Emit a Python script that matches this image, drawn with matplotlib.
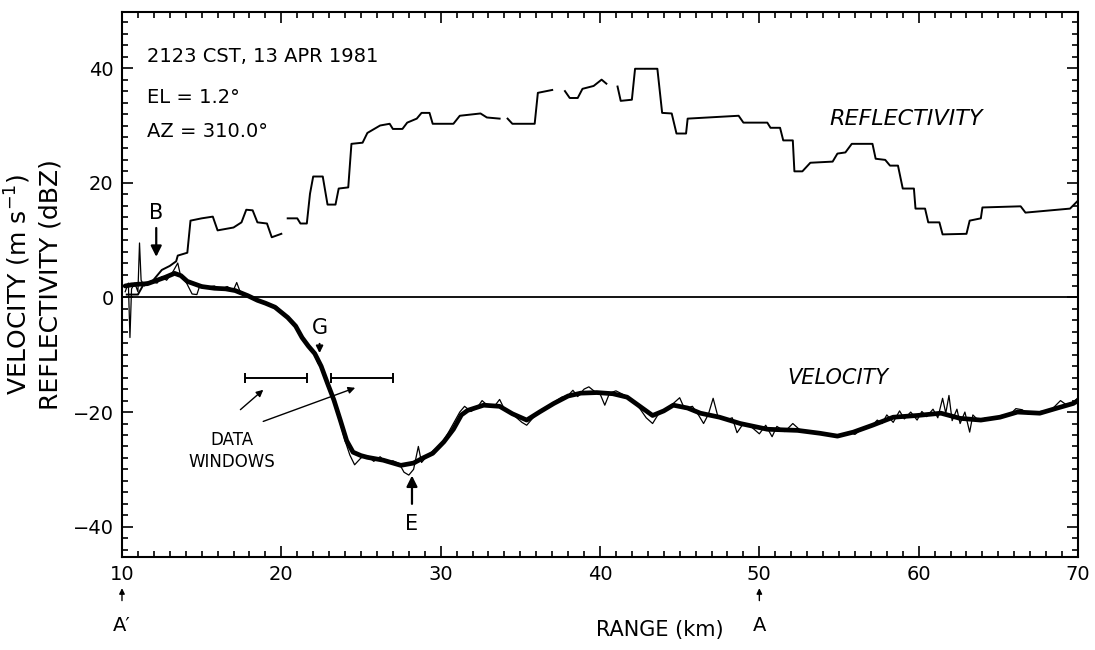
import matplotlib
matplotlib.use("Agg")
import matplotlib.pyplot as plt
import numpy as np
from matplotlib.ticker import MultipleLocator

# reflectivity trace (dBZ), NaN = gap in the trace
refl_x = [10.3, 11.0, 11.4, 11.9, 12.5, 13.0, 13.4, 13.5, 14.1, 14.3, 15.0, 15.7, 16.0, 17.0, 17.5,
          17.8, 18.2, 18.5, 19.1, 19.4, 20.0, 20.2, 20.4, 21.0, 21.2, 21.6, 21.8, 22.0, 22.6, 22.9,
          23.4, 23.6, 24.2, 24.4, 25.1, 25.4, 26.2, 26.8, 27.0, 27.6, 27.9, 28.5, 28.8, 29.3, 29.5,
          30.8, 31.2, 32.5, 32.9, 33.7, 33.9, 34.2, 34.5, 35.9, 36.1, 37.0, 37.4, 37.8, 38.1, 38.6,
          38.9, 39.6, 40.1, 40.4, 40.7, 41.1, 41.3, 42.0, 42.2, 43.6, 43.9, 44.5, 44.8, 45.4, 45.5,
          48.7, 49.0, 50.5, 50.7, 51.3, 51.5, 52.1, 52.2, 52.7, 53.2, 54.6, 54.9, 55.4, 55.8, 57.1,
          57.3, 57.9, 58.2, 58.7, 59.0, 59.7, 59.8, 60.4, 60.6, 61.3, 61.5, 63.0, 63.2, 63.9, 64.0,
          66.4, 66.7, 69.5, 70.0]
refl_y = [0.5, 0.5, 2.5, 2.8, 4.8, 5.5, 6.3, 7.3, 7.8, 13.4, 13.8, 14.1, 11.7, 12.2, 13.1,
          15.3, 15.2, 13.1, 12.9, 10.5, 11.1, np.nan, 13.8, 13.8, 12.9, 12.9, 18.1, 21.1, 21.1, 16.2,
          16.2, 19.0, 19.2, 26.8, 27.0, 28.7, 30.0, 30.3, 29.4, 29.4, 30.5, 31.2, 32.2, 32.2, 30.3,
          30.3, 31.7, 32.1, 31.4, 31.2, np.nan, 31.2, 30.3, 30.3, 35.7, 36.2, np.nan, 36.0, 34.8, 34.8,
          36.4, 36.9, 38.0, 37.3, np.nan, 36.8, 34.3, 34.5, 39.9, 39.9, 32.2, 32.1, 28.6, 28.6, 31.2,
          31.7, 30.5, 30.5, 29.6, 29.6, 27.4, 27.4, 22.0, 22.0, 23.5, 23.7, 25.1, 25.3, 26.8, 26.8,
          24.2, 24.0, 23.0, 23.0, 19.0, 19.0, 15.5, 15.5, 13.1, 13.1, 11.0, 11.1, 13.4, 13.8, 15.7,
          15.9, 14.8, 15.5, 16.9]

# smoothed velocity (m/s), thick curve
vel_x = [10.2, 10.6, 11.0, 11.6, 12.2, 12.7, 13.3, 13.7, 14.1, 15.0, 15.8, 16.5, 17.1, 17.9, 18.5,
         19.0, 19.6, 20.4, 20.9, 21.3, 21.7, 22.1, 22.5, 22.9, 23.3, 23.7, 24.1, 24.5, 25.0, 25.4,
         26.4, 27.5, 28.3, 28.9, 29.5, 30.2, 30.8, 31.3, 31.7, 32.7, 33.7, 34.5, 35.4, 36.2, 37.1,
         38.0, 38.8, 39.8, 40.8, 41.7, 42.5, 43.3, 44.0, 44.6, 45.5, 46.3, 47.5, 48.8, 50.5, 52.4,
         53.8, 54.9, 55.9, 57.1, 58.4, 59.9, 61.4, 62.6, 63.9, 65.1, 66.2, 67.6, 68.7, 69.7, 70.0]
vel_y = [2.0, 2.2, 2.3, 2.4, 3.0, 3.5, 4.2, 3.8, 2.8, 1.9, 1.6, 1.5, 1.2, 0.3, -0.5,
         -1.0, -1.7, -3.5, -5.0, -7.0, -8.5, -9.8, -12.0, -15.0, -17.9, -21.4, -25.0, -27.0, -27.6, -27.9,
         -28.4, -29.3, -28.9, -28.0, -27.2, -25.2, -23.0, -20.5, -19.7, -18.8, -19.0, -20.3, -21.4, -20.0, -18.5,
         -17.2, -16.7, -16.6, -16.8, -17.4, -19.0, -20.6, -19.8, -18.8, -19.3, -20.2, -20.9, -22.0, -23.0, -23.2,
         -23.7, -24.2, -23.5, -22.3, -20.9, -20.6, -20.2, -21.1, -21.4, -20.9, -20.0, -20.2, -19.3, -18.5, -18.0]

# unsmoothed velocity, thin curve
raw_x = [10.2, 10.4, 10.5, 10.6, 10.8, 11.0, 11.1, 11.2, 11.4, 11.8, 12.2, 12.5, 12.8, 13.2, 13.5,
         13.7, 14.0, 14.4, 14.7, 14.9, 15.4, 15.8, 16.2, 16.6, 17.0, 17.2, 17.4, 17.9, 18.5, 19.1,
         19.7, 20.3, 20.8, 21.2, 21.6, 22.0, 22.3, 22.6, 22.9, 23.2, 23.6, 24.0, 24.3, 24.6, 25.0,
         25.4, 25.8, 26.2, 26.6, 27.0, 27.4, 27.7, 28.0, 28.3, 28.6, 28.8, 29.2, 29.6, 30.0, 30.5,
         30.9, 31.2, 31.5, 31.9, 32.3, 32.6, 33.0, 33.4, 33.7, 34.0, 34.6, 35.1, 35.4, 35.8, 36.3,
         36.7, 37.1, 37.6, 38.0, 38.3, 38.6, 39.0, 39.3, 39.7, 40.0, 40.3, 40.6, 41.0, 41.5, 42.0,
         42.5, 42.9, 43.3, 43.7, 44.1, 44.6, 45.0, 45.3, 45.8, 46.2, 46.5, 46.8, 47.1, 47.4, 47.9,
         48.3, 48.6, 49.0, 49.5, 50.0, 50.4, 50.8, 51.1, 51.6, 52.1, 52.5, 53.0, 53.5, 54.0, 54.6,
         55.1, 55.6, 56.0, 56.5, 57.0, 57.4, 57.7, 58.0, 58.4, 58.8, 59.1, 59.5, 59.9, 60.2, 60.5,
         60.9, 61.2, 61.5, 61.7, 61.9, 62.1, 62.4, 62.6, 62.9, 63.2, 63.4, 63.8, 64.2, 64.7, 65.2,
         65.7, 66.1, 66.5, 66.9, 67.4, 67.9, 68.4, 68.9, 69.3, 69.7, 70.0]
raw_y = [1.0, 2.5, -7.0, 1.5, 2.5, 1.0, 9.5, 3.0, 2.0, 2.8, 2.5, 3.6, 3.0, 4.5, 6.0,
         3.5, 2.8, 0.6, 0.5, 2.2, 1.8, 2.0, 1.4, 1.9, 1.3, 2.6, 1.1, 0.4, -0.4, -1.1,
         -1.6, -3.2, -4.8, -6.8, -8.0, -9.5, -11.5, -12.5, -15.5, -17.0, -21.0, -25.0, -27.5, -29.2, -28.0,
         -27.6, -28.6, -27.8, -28.8, -28.5, -29.0, -30.5, -31.0, -30.0, -26.0, -28.8, -27.5, -26.6, -25.8, -23.5,
         -21.5, -20.0, -19.0, -19.9, -19.2, -18.0, -19.0, -18.9, -17.8, -19.5, -20.6, -21.8, -22.3, -21.0, -19.6,
         -19.0, -18.3, -17.4, -17.1, -16.2, -17.3, -16.0, -15.6, -16.5, -16.8, -18.8, -16.7, -16.3, -17.0, -17.8,
         -19.4, -21.0, -22.0, -20.2, -19.6, -18.5, -17.5, -19.4, -19.0, -20.6, -22.0, -20.4, -17.6, -20.8, -21.4,
         -21.0, -23.6, -22.0, -22.6, -23.8, -22.3, -24.3, -22.5, -23.4, -22.0, -23.0, -23.5, -23.6, -23.8, -24.0,
         -24.2, -23.5, -23.9, -22.8, -22.6, -21.4, -22.0, -20.5, -21.8, -19.8, -21.2, -20.0, -21.4, -19.9, -20.8,
         -19.5, -21.0, -17.6, -20.2, -17.1, -21.5, -19.5, -22.0, -20.0, -23.5, -20.5, -21.6, -21.0, -21.2, -20.6,
         -20.5, -19.4, -19.6, -20.4, -20.0, -19.8, -19.4, -18.0, -18.8, -18.3, -17.5]

window_starts = [17.7, 23.1]
window_ends = [21.6, 27.0]
window_level = -14.1

fig = plt.figure(figsize=(10.95, 6.5), dpi=100)
ax = fig.add_axes([0.1114, 0.143, 0.8731, 0.8385])

ax.axhline(0, color="black", lw=1.3)
ax.plot(refl_x, refl_y, color="black", lw=1.4)
ax.plot(raw_x, raw_y, color="black", lw=0.9)
ax.plot(vel_x, vel_y, color="black", lw=3.4, solid_capstyle="round")

# data windows
ax.hlines([window_level] * len(window_starts), window_starts, window_ends, color="black", lw=1.4)
ax.vlines(window_starts + window_ends, window_level - 0.9, window_level + 0.9, color="black", lw=1.4)
ax.text(16.9, -26.8, "DATA\nWINDOWS", ha="center", va="center", fontsize=12, linespacing=1.25)
ax.annotate("", xy=(19.0, -15.8), xytext=(17.3, -19.9),
            arrowprops=dict(arrowstyle="-|>", color="black", lw=1.0, mutation_scale=10))
ax.annotate("", xy=(24.8, -15.6), xytext=(18.7, -21.8),
            arrowprops=dict(arrowstyle="-|>", color="black", lw=1.0, mutation_scale=10))

# markers B, G, E
arrow = dict(arrowstyle="-|>", color="black", lw=1.6, mutation_scale=16)
ax.text(12.15, 14.8, "B", ha="center", va="center", fontsize=15)
ax.annotate("", xy=(12.15, 6.6), xytext=(12.15, 12.6), arrowprops=arrow)
ax.text(22.4, -5.3, "G", ha="center", va="center", fontsize=15)
ax.annotate("", xy=(22.4, -10.2), xytext=(22.4, -7.6),
            arrowprops=dict(arrowstyle="-|>", color="black", lw=1.4, mutation_scale=10))
ax.annotate("", xy=(28.2, -30.6), xytext=(28.2, -36.5), arrowprops=arrow)
ax.text(28.2, -39.6, "E", ha="center", va="center", fontsize=15)

ax.text(11.6, 42.0, "2123 CST, 13 APR 1981", fontsize=14, va="center")
ax.text(11.6, 34.8, "EL = 1.2°", fontsize=14, va="center")
ax.text(11.6, 29.0, "AZ = 310.0°", fontsize=14, va="center")
ax.text(59.2, 31.2, "REFLECTIVITY", fontsize=16, style="italic", ha="center", va="center")
ax.text(54.95, -14.1, "VELOCITY", fontsize=15, style="italic", ha="center", va="center")

# A' and A markers under the range axis
for xpos, lab in [(10, "A\u2032"), (50, "A")]:
    ax.annotate("", xy=(xpos, -0.052), xytext=(xpos, -0.085),
                xycoords=("data", "axes fraction"), annotation_clip=False,
                arrowprops=dict(arrowstyle="-|>", color="black", lw=1.0, mutation_scale=8))
    ax.text(xpos, -0.125, lab, transform=ax.get_xaxis_transform(), ha="center", va="center",
            fontsize=14, clip_on=False)

ax.set_xlim(10, 70)
ax.set_ylim(-45.3, 49.8)
ax.xaxis.set_major_locator(MultipleLocator(10))
ax.xaxis.set_minor_locator(MultipleLocator(1))
ax.yaxis.set_major_locator(MultipleLocator(20))
ax.yaxis.set_minor_locator(MultipleLocator(2))
ax.tick_params(which="both", direction="in", top=True, right=True, labelsize=14, width=1.2)
ax.tick_params(which="major", length=8, pad=6)
ax.tick_params(which="minor", length=4)
for s in ax.spines.values():
    s.set_linewidth(1.5)

ax.set_xlabel("RANGE (km)", fontsize=15)
ax.xaxis.set_label_coords(0.563, -0.115)
ax.set_ylabel("VELOCITY (m s$^{-1}$)\nREFLECTIVITY (dBZ)", fontsize=18, linespacing=1.3)
ax.yaxis.set_label_coords(-0.062, 0.5)

fig.savefig("out.png", dpi=100)
